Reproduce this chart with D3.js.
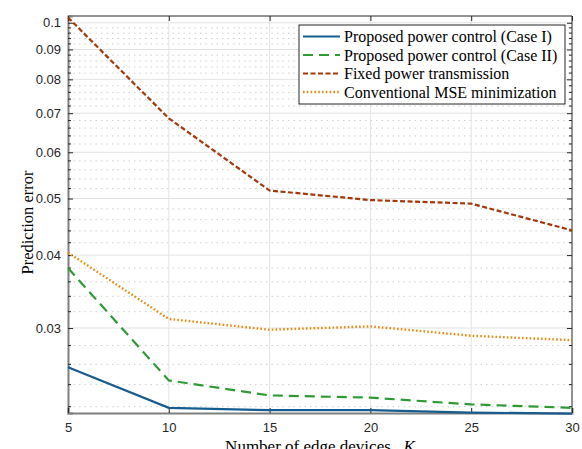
<!DOCTYPE html>
<html>
<head>
<meta charset="utf-8">
<script src="https://cdn.jsdelivr.net/npm/d3@7"></script>
<style>
body { margin: 0; background: #fff; }
svg { display: block; }
</style>
</head>
<body>
<script>
// values
var devices = [5, 10, 15, 20, 25, 30];
var caseOne = [0.0257, 0.0219, 0.0217, 0.0217, 0.0215, 0.0214];
var caseTwo = [0.0380, 0.0244, 0.0230, 0.0228, 0.0222, 0.0219];
var fixedPower = [0.1021, 0.0686, 0.0516, 0.0497, 0.0490, 0.0441];
var mseMin = [0.0404, 0.0311, 0.0298, 0.0302, 0.0291, 0.0286];
var seriesNames = ["Proposed power control (Case I)", "Proposed power control (Case II)",
                   "Fixed power transmission", "Conventional MSE minimization"];
var yMajor = [0.03, 0.04, 0.05, 0.06, 0.07, 0.08, 0.09, 0.1];
var yMajorLabels = ["0.03", "0.04", "0.05", "0.06", "0.07", "0.08", "0.09", "0.1"];

var width = 582, height = 449;
var margin = {left: 68, right: 10, top: 16, bottom: 36};

var svg = d3.select("body").append("svg")
    .attr("width", width)
    .attr("height", height);

var x = d3.scaleLinear().domain([5, 30]).range([margin.left, width - margin.right]);
var y = d3.scaleLog().domain([0.02146, 0.1027]).range([height - margin.bottom, margin.top]);

var x0 = x.range()[0], x1 = x.range()[1], y0 = y.range()[0], y1 = y.range()[1];

// minor values every 0.002
var yMinor = [];
for (var i = 11; i <= 50; i++) {
    var v = +(i * 0.002).toFixed(3);
    if (v < y.domain()[1] && yMajor.indexOf(v) < 0) yMinor.push(v);
}

var grid = svg.append("g");
grid.selectAll(".minor")
    .data(yMinor)
    .enter().append("line")
    .attr("x1", x0).attr("x2", x1)
    .attr("y1", function(d) { return y(d); })
    .attr("y2", function(d) { return y(d); })
    .attr("stroke", "#cfcfcf")
    .attr("stroke-width", 1)
    .attr("stroke-dasharray", "1.5,4");
grid.selectAll(".major")
    .data(yMajor)
    .enter().append("line")
    .attr("x1", x0).attr("x2", x1)
    .attr("y1", function(d) { return y(d); })
    .attr("y2", function(d) { return y(d); })
    .attr("stroke", "#e3e3e3")
    .attr("stroke-width", 1);
grid.selectAll(".vx")
    .data(devices.slice(1, 5))
    .enter().append("line")
    .attr("y1", y0).attr("y2", y1)
    .attr("x1", function(d) { return x(d); })
    .attr("x2", function(d) { return x(d); })
    .attr("stroke", "#e3e3e3")
    .attr("stroke-width", 1);

// frame: top and right dark, left and bottom grey
svg.append("line").attr("x1", x0).attr("x2", x1).attr("y1", y1).attr("y2", y1)
    .attr("stroke", "#262626").attr("stroke-width", 1);
svg.append("line").attr("x1", x1).attr("x2", x1).attr("y1", y1).attr("y2", y0)
    .attr("stroke", "#262626").attr("stroke-width", 1);

// axes
var tickFont = "'Liberation Sans', Arial, sans-serif";

var leftAxis = svg.append("g")
    .attr("transform", "translate(" + x0 + ",0)")
    .call(d3.axisLeft(y).tickValues(yMajor)
        .tickFormat(function(d, i) { return yMajorLabels[i]; })
        .tickSize(-5).tickPadding(7));
leftAxis.append("g").selectAll("line")
    .data(yMinor).enter().append("line")
    .attr("x1", 0).attr("x2", 3)
    .attr("y1", function(d) { return y(d); })
    .attr("y2", function(d) { return y(d); });

var rightAxis = svg.append("g")
    .attr("transform", "translate(" + x1 + ",0)")
    .call(d3.axisRight(y).tickValues(yMajor).tickFormat("").tickSize(-5));
rightAxis.append("g").selectAll("line")
    .data(yMinor).enter().append("line")
    .attr("x1", 0).attr("x2", -3)
    .attr("y1", function(d) { return y(d); })
    .attr("y2", function(d) { return y(d); });

var topAxis = svg.append("g")
    .attr("transform", "translate(0," + y1 + ")")
    .call(d3.axisTop(x).tickValues(devices).tickFormat("").tickSize(-5));

var bottomAxis = svg.append("g")
    .attr("transform", "translate(0," + y0 + ")")
    .call(d3.axisBottom(x).tickValues(devices).tickFormat(d3.format("d"))
        .tickSize(-5).tickPadding(10));

[leftAxis, bottomAxis].forEach(function(a) {
    a.select(".domain").attr("stroke", "#7f7f7f").attr("stroke-width", 2);
    a.selectAll("line").attr("stroke", "#262626");
    a.selectAll("text").attr("fill", "#262626")
        .style("font-family", tickFont).style("font-size", "13px");
});
[rightAxis, topAxis].forEach(function(a) {
    a.select(".domain").remove();
    a.selectAll("line").attr("stroke", "#262626");
});

// series
var series = [
    {name: seriesNames[0], values: caseOne, color: "#175c91", dash: null, w: 2.2},
    {name: seriesNames[1], values: caseTwo, color: "#2e9a34", dash: "10,6", w: 2.2},
    {name: seriesNames[2], values: fixedPower, color: "#a3380c", dash: "5,2.5", w: 2.2},
    {name: seriesNames[3], values: mseMin, color: "#ea8a0e", dash: "1.6,2.2", w: 2.4}
];

var line = d3.line()
    .x(function(d) { return x(d[0]); })
    .y(function(d) { return y(d[1]); });

svg.append("g").selectAll("path")
    .data(series)
    .enter().append("path")
    .attr("d", function(s) { return line(d3.zip(devices, s.values)); })
    .attr("fill", "none")
    .attr("stroke", function(s) { return s.color; })
    .attr("stroke-width", function(s) { return s.w; })
    .attr("stroke-dasharray", function(s) { return s.dash; });

// legend
var serif = "'Liberation Serif', 'Times New Roman', serif";
var legend = svg.append("g").attr("transform", "translate(299,25)");
legend.append("rect")
    .attr("width", 266).attr("height", 79)
    .attr("fill", "#fff")
    .attr("stroke", "#262626").attr("stroke-width", 1);
var row = legend.selectAll(".row")
    .data(series)
    .enter().append("g")
    .attr("transform", function(d, i) { return "translate(0," + (11.5 + i * 18.5) + ")"; });
row.append("line")
    .attr("x1", 4).attr("x2", 41)
    .attr("stroke", function(s) { return s.color; })
    .attr("stroke-width", function(s) { return s.w; })
    .attr("stroke-dasharray", function(s) { return s.dash; });
row.append("text")
    .attr("x", 45).attr("dy", "0.35em")
    .style("font-family", serif)
    .style("font-size", "16px")
    .attr("fill", "#000")
    .text(function(s) { return s.name; });

// axis titles
svg.append("text")
    .attr("transform", "translate(33," + ((y0 + y1) / 2 + 8) + ") rotate(-90)")
    .attr("text-anchor", "middle")
    .style("font-family", serif).style("font-size", "16.5px")
    .text("Prediction error");

var xt = svg.append("text")
    .attr("x", (x0 + x1) / 2)
    .attr("y", 452)
    .attr("text-anchor", "middle")
    .style("font-family", serif).style("font-size", "17px");
xt.append("tspan").text("Number of edge devices\u00a0\u00a0\u00a0");
xt.append("tspan").style("font-style", "italic").text("K");
</script>
</body>
</html>
